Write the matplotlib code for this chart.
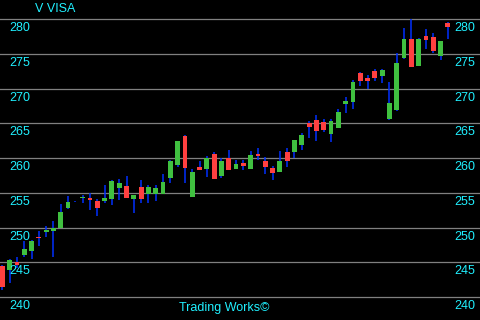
import matplotlib
matplotlib.use("Agg")
import matplotlib.pyplot as plt
import matplotlib.transforms as mtransforms
import numpy as np

title = "V VISA"
footer = "Trading Works\u00a9"
price_levels = [240, 245, 250, 255, 260, 265, 270, 275, 280]

opens = [244.4, 243.9, 245.06, 246.07, 246.64, 248.65, 249.4, 249.5, 250.0, 252.84,
         253.6, 254.2, 254.28, 253.85, 253.85, 254.1, 255.71, 256.0, 254.1, 255.86,
         254.84, 254.84, 254.84, 257.16, 259.04, 263.21, 254.43, 258.75, 258.46, 260.62,
         257.44, 260.04, 258.46, 259.3, 258.46, 260.62, 259.6, 258.6, 258.0, 260.9,
         260.9, 261.92, 265.1, 265.5, 265.22, 263.5, 264.36, 267.82, 268.1, 272.3,
         271.57, 272.58, 271.86, 265.65, 266.89, 274.38, 277.12, 273.23, 277.56, 277.41,
         274.67, 279.42]
highs = [244.6, 245.4, 245.8, 248.0, 248.2, 249.5, 250.2, 251.0, 253.4, 254.6,
         253.75, 254.7, 254.96, 254.1, 256.15, 256.86, 257.0, 257.45, 254.7, 256.87,
         256.15, 256.15, 257.74, 259.75, 262.5, 263.36, 258.46, 259.6, 260.33, 260.9,
         260.04, 261.2, 259.75, 259.75, 261.05, 261.49, 260.19, 258.9, 261.05, 261.49,
         262.64, 263.65, 265.37, 266.2, 265.65, 265.65, 267.1, 268.83, 271.28, 272.43,
         272.0, 272.87, 272.87, 271.0, 275.1, 278.7, 280.0, 277.27, 278.57, 277.99,
         276.83, 279.57]
lows = [241.0, 242.0, 244.15, 245.7, 245.4, 247.4, 248.7, 245.7, 250.0, 252.65,
        253.6, 253.5, 252.55, 251.7, 253.55, 253.27, 254.0, 254.28, 252.1, 253.55,
        253.55, 253.84, 254.84, 256.44, 258.75, 256.44, 254.43, 258.3, 257.3, 257.0,
        257.16, 258.3, 258.46, 258.3, 258.46, 259.75, 257.74, 256.87, 258.0, 258.75,
        260.04, 261.2, 262.93, 262.5, 263.79, 262.35, 264.36, 266.53, 267.1, 270.42,
        269.99, 271.14, 270.85, 265.5, 266.75, 274.24, 273.08, 273.23, 275.68, 275.1,
        274.1, 277.12]
closes = [241.5, 245.35, 244.63, 246.93, 248.08, 248.55, 249.67, 250.0, 252.26, 253.7,
          253.7, 254.3, 253.99, 252.84, 254.28, 256.7, 256.43, 254.28, 254.7, 254.13,
          255.86, 255.72, 256.58, 259.6, 262.5, 258.6, 258.0, 258.3, 260.04, 257.0,
          259.6, 258.3, 259.16, 258.9, 260.48, 260.33, 258.75, 257.88, 259.6, 259.6,
          262.64, 263.36, 264.5, 263.9, 264.07, 265.37, 266.67, 268.25, 271.0, 271.14,
          271.14, 271.57, 272.72, 267.96, 273.66, 277.12, 273.08, 277.12, 276.98, 275.4,
          276.83, 278.85]

BG = "#000000"
GREEN = "#40c040"
RED = "#ff4040"
WICK = "#0030ff"
GRID = "#808080"
TEXT = "#20f0ff"

o = np.array(opens); h = np.array(highs); l = np.array(lows); c = np.array(closes)
idx = np.arange(len(o))

fig = plt.figure(figsize=(4.8, 3.2), dpi=100, facecolor=BG)
ax = fig.add_axes([0, 0, 1, 1], facecolor=BG)
ax.set_xlim(-0.32, 65.4)
ax.set_ylim(236.69, 282.74)
ax.axis("off")

for p in price_levels:
    ax.axhline(p, color=GRID, lw=0.9, zorder=1)

ax.vlines(idx, l, h, color=WICK, lw=1.1, zorder=2)
up = c >= o
bottoms = np.minimum(o, c)
heights = np.maximum(np.abs(c - o), 0.13)
colors = [GREEN if u else RED for u in up]
ax.bar(idx, heights, bottom=bottoms, width=0.66, color=colors, linewidth=0, zorder=3)

fam = ["Liberation Sans", "DejaVu Sans"]
off = mtransforms.offset_copy(ax.transData, fig=fig, x=0, y=-12, units="dots")
left_tr = mtransforms.blended_transform_factory(fig.transFigure, off)
for p in price_levels:
    ax.text(9 / 480, p, str(p), transform=left_tr, color=TEXT, fontsize=9,
            family=fam, ha="left", va="baseline")
    ax.text(475 / 480, p, str(p), transform=left_tr, color=TEXT, fontsize=9,
            family=fam, ha="right", va="baseline")

fig.text(55 / 480, 1 - 12 / 320, title, color=TEXT, fontsize=9, family=fam,
         ha="center", va="baseline")
fig.text(224 / 480, 1 - 311 / 320, footer, color=TEXT, fontsize=9, family=fam,
         ha="center", va="baseline")

fig.savefig("out.png", dpi=100, facecolor=BG)
